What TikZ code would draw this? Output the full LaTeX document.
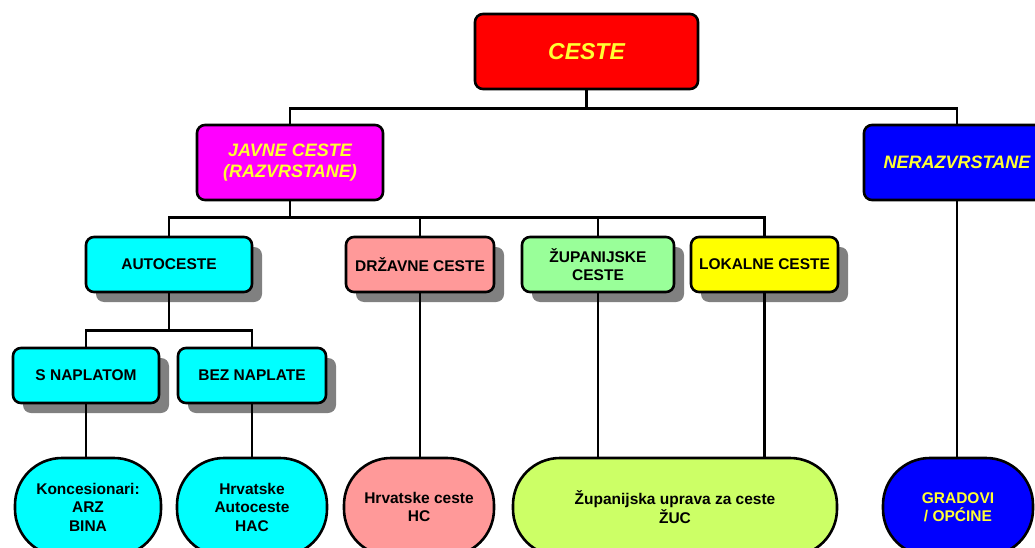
\documentclass[tikz,border=0pt]{standalone}
\usepackage{fontspec}
\setmainfont{Liberation Sans}
\usetikzlibrary{shadows,calc}
\definecolor{cRed}{HTML}{FF0000}
\definecolor{cMag}{HTML}{FF00FF}
\definecolor{cBlue}{HTML}{0000FF}
\definecolor{cYel}{HTML}{FFFF00}
\definecolor{cTxt}{HTML}{FFFF33}
\definecolor{cCyan}{HTML}{00FFFF}
\definecolor{cPink}{HTML}{FF9999}
\definecolor{cGreen}{HTML}{99FF99}
\definecolor{cLime}{HTML}{CCFF66}
\definecolor{cShadow}{HTML}{808080}
\begin{document}
\begin{tikzpicture}[x=1pt,y=-1pt,
  box/.style={draw=black, line width=2.6pt, rounded corners=8pt, align=center,
    font=\bfseries\fontsize{15.5}{18.5}\selectfont, inner sep=0pt},
  topbox/.style={box, font=\bfseries\itshape\fontsize{18}{21}\selectfont, text=cTxt, minimum height=75pt},
  midbox/.style={box, minimum height=55pt,
    drop shadow={shadow xshift=10pt, shadow yshift=-10pt, fill=cShadow, opacity=1}},
  pill/.style={box, rounded corners=47pt, minimum height=98pt},
  link/.style={line width=2.6pt}]
\useasboundingbox (0,0) rectangle (1035,548);
\clip (0,0) rectangle (1035,548);
\fill[white] (0,0) rectangle (1035,548);

% level 1 & 2
\node[topbox, fill=cRed, minimum width=223pt, font=\bfseries\itshape\fontsize{23}{27}\selectfont] (ceste) at (586.5,51.5) {CESTE};
\node[topbox, fill=cMag, minimum width=186pt] (javne) at (290,162.5) {JAVNE CESTE\\(RAZVRSTANE)};
\node[topbox, fill=cBlue, minimum width=186pt] (nera) at (957,162.5) {NERAZVRSTANE};

% level 3
\node[midbox, fill=cCyan, minimum width=166pt] (auto) at (169,264.5) {AUTOCESTE};
\node[midbox, fill=cPink, minimum width=148pt] (drz) at (420,264.5) {DRŽAVNE CESTE};
\node[midbox, fill=cGreen, minimum width=152pt] (zup) at (598,264.5) {ŽUPANIJSKE\\CESTE};
\node[midbox, fill=cYel, minimum width=147pt] (lok) at (764.5,264.5) {LOKALNE CESTE};

% level 4
\node[midbox, fill=cCyan, minimum width=146pt] (snap) at (86,375.5) {S NAPLATOM};
\node[midbox, fill=cCyan, minimum width=148pt] (bez) at (252,375.5) {BEZ NAPLATE};

% bottom pills
\node[pill, fill=cCyan, minimum width=146pt] (kon) at (88,507) {Koncesionari:\\ARZ\\BINA};
\node[pill, fill=cCyan, minimum width=150pt] (hac) at (252,507) {Hrvatske\\Autoceste\\HAC};
\node[pill, fill=cPink, minimum width=150pt] (hc) at (419,507) {Hrvatske ceste\\HC};
\node[pill, fill=cLime, minimum width=324pt] (zuc) at (675,507) {Županijska uprava za ceste\\ŽUC};
\node[pill, fill=cBlue, text=cTxt, minimum width=150pt] (grad) at (958,507) {GRADOVI\\/ OPĆINE};

% connectors
\draw[link] (ceste.south) -- ++(0,18) coordinate (b1);
\draw[link] (javne.north) |- (b1) -| (nera.north);
\draw[link] (javne.south) -- ++(0,16) coordinate (b2);
\draw[link] (auto.north) |- (b2) -| (lok.north);
\draw[link] (drz.north) -- (drz.north |- b2);
\draw[link] (zup.north) -- (zup.north |- b2);
\draw[link] (auto.south) -- ++(0,37) coordinate (b3);
\draw[link] (snap.north) |- (b3) -| (bez.north);
\draw[link] (snap.south) -- (snap.south |- kon.north);
\draw[link] (bez.south) -- (bez.south |- hac.north);
\draw[link] (drz.south) -- (drz.south |- hc.north);
\draw[link] (zup.south) -- (zup.south |- zuc.north);
\draw[link] (lok.south) -- (lok.south |- zuc.north);
\draw[link] (nera.south) -- (nera.south |- grad.north);
\end{tikzpicture}
\end{document}
